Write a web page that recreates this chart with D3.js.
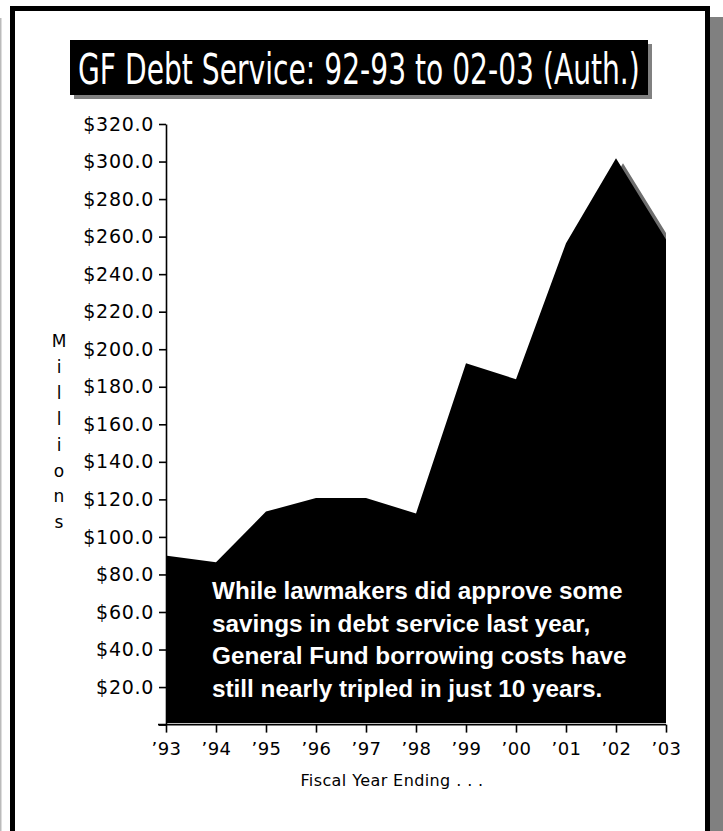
<!DOCTYPE html>
<html>
<head>
<meta charset="utf-8">
<script src="https://cdn.jsdelivr.net/npm/d3@7"></script>
<style>
  body { margin: 0; background: #fff; }
  svg { display: block; }
</style>
</head>
<body>
<div id="chart"></div>
<script>
// values ($ millions, fiscal year ending)
const years = ["\u201993", "\u201994", "\u201995", "\u201996", "\u201997", "\u201998", "\u201999", "\u201900", "\u201901", "\u201902", "\u201903"];
const debtService = [90.0, 86.5, 113.5, 120.7, 120.7, 112.5, 192.5, 184.0, 256.5, 301.8, 258.5];
const yTicks = [0, 20, 40, 60, 80, 100, 120, 140, 160, 180, 200, 220, 240, 260, 280, 300, 320];
const noteLines = [
  "While lawmakers did approve some",
  "savings in debt service last year,",
  "General Fund borrowing costs have",
  "still nearly tripled in just 10 years."
];
const titleText = "GF Debt Service: 92-93 to 02-03 (Auth.)";
const yTitle = "Millions";
const xTitle = "Fiscal Year Ending . . .";

const W = 723, H = 831;
const svg = d3.select("#chart").append("svg").attr("width", W).attr("height", H);

// page frame
svg.append("rect").attr("x", 0).attr("y", 18).attr("width", 1.5).attr("height", H).attr("fill", "#bbb");
svg.append("rect").attr("x", 710).attr("y", 17).attr("width", 13).attr("height", H).attr("fill", "#808080");
svg.append("rect").attr("x", 12.5).attr("y", 8.5).attr("width", 695).attr("height", H + 20)
  .attr("fill", "none").attr("stroke", "#000").attr("stroke-width", 5);

// title box
const tb = { x: 70, y: 40, w: 578, h: 55 };
svg.append("rect").attr("x", tb.x + 4).attr("y", tb.y + 4).attr("width", tb.w).attr("height", tb.h).attr("fill", "#808080");
svg.append("rect").attr("x", tb.x).attr("y", tb.y).attr("width", tb.w).attr("height", tb.h).attr("fill", "#000");
const title = svg.append("text")
  .attr("fill", "#fff")
  .style("font-family", "'Liberation Sans Narrow', 'DejaVu Sans Condensed', 'Roboto Condensed', sans-serif")
  .style("font-stretch", "condensed")
  .style("font-size", "43px")
  .text(titleText);
// squeeze horizontally to fit the box, like the condensed face in the original
const tw = title.node().getComputedTextLength();
title.attr("transform", `translate(${tb.x + 8},${tb.y + 44}) scale(${562 / tw},1)`);

// scales
const x = d3.scalePoint().domain(years).range([166, 666]);
const y = d3.scaleLinear().domain([0, 320]).range([724.6, 124]);

const data = years.map((yr, i) => ({ yr, v: debtService[i] }));

// area + offset shadow
svg.append("clipPath").attr("id", "plotclip").append("rect")
  .attr("x", 167).attr("y", 100).attr("width", 666 - 167).attr("height", 723 - 100);

const area = d3.area().x(d => x(d.yr)).y0(y(0) - 1.5).y1(d => y(d.v));

svg.append("g").attr("clip-path", "url(#plotclip)")
  .append("path").datum(data).attr("d", area)
  .attr("transform", "translate(7,5)").attr("fill", "#6e6e6e");
svg.append("g").attr("clip-path", "url(#plotclip)")
  .append("path").datum(data).attr("d", area).attr("fill", "#000");

// axes
const tickFont = "'DejaVu Sans', Verdana, sans-serif";
const yAxis = svg.append("g").attr("transform", "translate(166,0)")
  .call(d3.axisLeft(y).tickValues(yTicks).tickSize(7).tickSizeOuter(0).tickPadding(5)
    .tickFormat(d => d === 0 ? "" : "$" + d.toFixed(1)));
yAxis.selectAll("text").style("font-family", tickFont).style("font-size", "19px")
  .style("letter-spacing", "0.7px").attr("fill", "#000");
yAxis.selectAll("line, path").attr("stroke", "#000").attr("stroke-width", 1.6);

const xAxis = svg.append("g").attr("transform", "translate(0,724.6)")
  .call(d3.axisBottom(x).tickSize(8).tickSizeOuter(0).tickPadding(10));
xAxis.selectAll("text").style("font-family", tickFont).style("font-size", "18px")
  .style("letter-spacing", "0.4px").attr("fill", "#000");
xAxis.selectAll("line, path").attr("stroke", "#000").attr("stroke-width", 1.6);
xAxis.select("path.domain").attr("d", "M158,0H666");

// axis titles
svg.append("g").selectAll("text").data(yTitle.split("")).join("text")
  .attr("x", 59).attr("y", (d, i) => 347 + i * 25.9)
  .attr("text-anchor", "middle")
  .style("font-family", tickFont).style("font-size", "17px")
  .text(d => d);

svg.append("text").attr("x", 392).attr("y", 786).attr("text-anchor", "middle")
  .style("font-family", tickFont).style("font-size", "16px").style("letter-spacing", "0.4px")
  .text(xTitle);

// note inside the area
svg.append("g").selectAll("text").data(noteLines).join("text")
  .attr("x", 212).attr("y", (d, i) => 599 + i * 32.6)
  .attr("fill", "#fff")
  .style("font-family", "'Liberation Sans', Arial, sans-serif")
  .style("font-weight", "bold").style("font-size", "24.3px")
  .text(d => d);
</script>
</body>
</html>
